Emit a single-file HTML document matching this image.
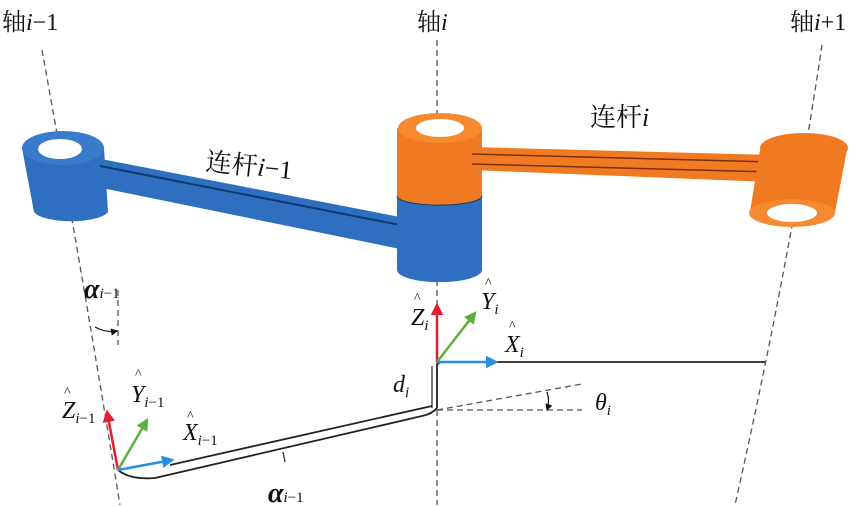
<!DOCTYPE html>
<html><head><meta charset="utf-8"><style>
html,body{margin:0;padding:0;background:#fff}
svg{display:block}
.t{font-family:"Liberation Serif","Noto Serif CJK SC",serif;fill:#111}
.c{font-family:"Noto Serif CJK SC","Noto Sans CJK SC",serif;fill:#111}
</style></head><body>
<svg width="864" height="507" viewBox="0 0 864 507" xmlns="http://www.w3.org/2000/svg">
<defs>
<marker id="ar" markerWidth="5" markerHeight="5" refX="4" refY="2.5" orient="auto"><path d="M0,0L5,2.5L0,5z" fill="#e02030"/></marker>
<marker id="ag" markerWidth="5" markerHeight="5" refX="4" refY="2.5" orient="auto"><path d="M0,0L5,2.5L0,5z" fill="#5cb040"/></marker>
<marker id="ab" markerWidth="5" markerHeight="5" refX="4" refY="2.5" orient="auto"><path d="M0,0L5,2.5L0,5z" fill="#2a8ee0"/></marker>
<marker id="ak" markerWidth="6" markerHeight="6" refX="5" refY="3" orient="auto"><path d="M0,0L6,3L0,6z" fill="#111"/></marker>
</defs>
<g stroke="#555" stroke-width="1.3" stroke-dasharray="6,4" fill="none">
<path d="M42,50 Q80,260 120,505"/>
<line x1="437" y1="40" x2="437" y2="505"/>
<path d="M822,45 Q790,260 735,505"/>
<line x1="118" y1="290" x2="118" y2="345"/>
<line x1="437" y1="410" x2="582" y2="384"/>
<line x1="437" y1="410" x2="582" y2="410"/>
</g>
<path d="M22,148 L34,212 A38,12 0 0 0 108,212 L104,148 Z" fill="#2f6fc0"/>
<ellipse cx="63" cy="148" rx="41" ry="17" fill="#3b7bcc"/>
<ellipse cx="60" cy="149" rx="22" ry="10" fill="#fff"/>
<polygon points="96,158 405,218 405,250 102,188" fill="#2f6fc0"/>
<line x1="100" y1="166" x2="405" y2="226" stroke="#123a70" stroke-width="2"/>
<path d="M397,195 L397,270 A42,12 0 0 0 482,270 L482,195 Z" fill="#2f6fc0"/>
<path d="M397,128 L397,195 A42,10 0 0 0 482,195 L482,128 Z" fill="#f07a22"/>
<path d="M397,196 A42,9 0 0 0 482,196" stroke="#123a70" stroke-width="1" fill="none"/>
<ellipse cx="440" cy="128" rx="42" ry="15" fill="#f68a30"/>
<ellipse cx="440" cy="128" rx="24" ry="9" fill="#fff"/>
<polygon points="472,147 770,155 770,182 472,170" fill="#f07a22"/>
<line x1="472" y1="154" x2="770" y2="162" stroke="#7a3010" stroke-width="1.5"/>
<line x1="472" y1="164" x2="770" y2="172" stroke="#7a3010" stroke-width="1.5"/>
<path d="M760,150 L750,212 A43,14 0 0 0 835,212 L847,150 Z" fill="#f07a22"/>
<ellipse cx="804" cy="148" rx="44" ry="15" fill="#f07a22"/>
<ellipse cx="792" cy="213" rx="43" ry="14" fill="#f58a32"/>
<ellipse cx="792" cy="213" rx="25" ry="9" fill="#fff"/>
<g stroke="#222" stroke-width="1.8" fill="none">
<path d="M118,470 Q130,480 155,478 L422,416 Q432,414 437,408"/>
<path d="M170,465 L432,406"/>
<line x1="283" y1="452" x2="285" y2="462" stroke-width="1.2"/>
<path d="M437,408 L437,366 Q437,362 444,362 L765,362"/>
<path d="M432,408 L432,366" stroke-width="1.2"/>
</g>
<path d="M95,327 Q106,333 117,331" stroke="#111" stroke-width="1.2" fill="none" marker-end="url(#ak)"/>
<path d="M547,392 Q550,401 547,410" stroke="#111" stroke-width="1.2" fill="none" marker-end="url(#ak)"/>
<line x1="118" y1="470" x2="107" y2="412" stroke="#e02030" stroke-width="2.5" marker-end="url(#ar)"/>
<line x1="118" y1="470" x2="147" y2="420" stroke="#5cb040" stroke-width="2.5" marker-end="url(#ag)"/>
<line x1="118" y1="470" x2="172" y2="460" stroke="#2a8ee0" stroke-width="2.5" marker-end="url(#ab)"/>
<line x1="437" y1="362" x2="437" y2="305" stroke="#e02030" stroke-width="2.5" marker-end="url(#ar)"/>
<line x1="437" y1="362" x2="475" y2="313" stroke="#5cb040" stroke-width="2.5" marker-end="url(#ag)"/>
<line x1="437" y1="362" x2="496" y2="362" stroke="#2a8ee0" stroke-width="2.5" marker-end="url(#ab)"/>
<text x="2" y="30" font-size="24" class="c">轴<tspan class="t" font-style="italic">i</tspan><tspan class="t">−1</tspan></text>
<text x="417" y="30" font-size="24" class="c">轴<tspan class="t" font-style="italic">i</tspan></text>
<text x="790" y="30" font-size="24" class="c">轴<tspan class="t" font-style="italic">i</tspan><tspan class="t">+1</tspan></text>
<text x="205" y="170" font-size="26" class="c" transform="rotate(6 205 170)">连杆<tspan class="t" font-style="italic">i</tspan><tspan class="t">−1</tspan></text>
<text x="590" y="126" font-size="26" class="c">连杆<tspan class="t" font-style="italic">i</tspan></text>
<g class="t" font-style="italic" font-size="24">
<text x="84" y="298" font-size="28" font-weight="bold">α<tspan font-size="15" font-weight="normal">i</tspan><tspan font-size="15" font-weight="normal" font-style="normal">−1</tspan></text>
<text x="268" y="502" font-size="28" font-weight="bold">α<tspan font-size="15" font-weight="normal">i</tspan><tspan font-size="15" font-weight="normal" font-style="normal">−1</tspan></text>
<text x="393" y="392">d<tspan font-size="15" dy="5">i</tspan></text>
<text x="595" y="410">θ<tspan font-size="15" dy="5">i</tspan></text>
<text x="62" y="418">Z<tspan font-size="15" dy="5">i</tspan><tspan font-size="15" font-style="normal">−1</tspan></text>
<text x="131" y="402">Y<tspan font-size="15" dy="5">i</tspan><tspan font-size="15" font-style="normal">−1</tspan></text>
<text x="183" y="440">X<tspan font-size="15" dy="5">i</tspan><tspan font-size="15" font-style="normal">−1</tspan></text>
<text x="411" y="325">Z<tspan font-size="15" dy="5">i</tspan></text>
<text x="481" y="309">Y<tspan font-size="15" dy="5">i</tspan></text>
<text x="505" y="352">X<tspan font-size="15" dy="5">i</tspan></text>
</g>
<g class="t" font-size="14">
<text x="64" y="396">^</text><text x="135" y="378">^</text><text x="187" y="420">^</text>
<text x="414" y="302">^</text><text x="485" y="287">^</text><text x="509" y="330">^</text>
</g>
</svg>
</body></html>
